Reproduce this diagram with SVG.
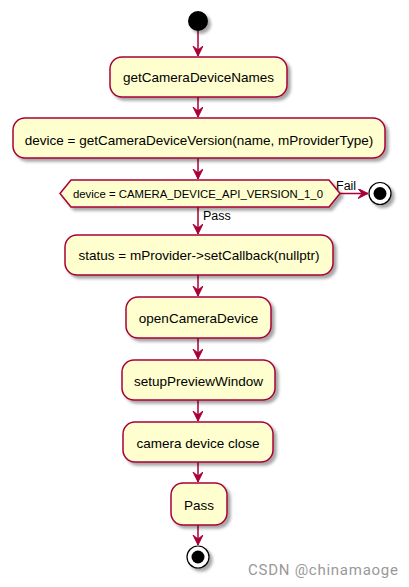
<svg xmlns="http://www.w3.org/2000/svg" width="409" height="587" viewBox="0 0 409 587">
<defs>
<filter id="sh" x="-20%" y="-20%" width="150%" height="160%">
<feGaussianBlur in="SourceAlpha" stdDeviation="1.5"/>
<feOffset dx="3" dy="3" result="b"/>
<feFlood flood-color="#000" flood-opacity="0.35"/>
<feComposite in2="b" operator="in"/>
<feMerge><feMergeNode/><feMergeNode in="SourceGraphic"/></feMerge>
</filter>
<marker id="ah" markerWidth="12" markerHeight="12" refX="10" refY="5" orient="auto" markerUnits="userSpaceOnUse">
<path d="M10,5 L0,0 L4,5 L0,10 Z" fill="#A80036" stroke="#A80036"/>
</marker>
</defs>
<style>
.box{fill:#FEFECE;stroke:#A80036;stroke-width:1.5;filter:url(#sh)}
.t{font-family:"Liberation Sans",Arial,sans-serif;font-size:13.5px;fill:#000;text-anchor:middle}
.ts{font-family:"Liberation Sans",Arial,sans-serif;font-size:12.5px;fill:#000}
.c{stroke:#A80036;stroke-width:1.5;fill:none;marker-end:url(#ah)}
</style>
<rect width="409" height="587" fill="#fff"/>
<g id="connectors">
<line class="c" x1="198" y1="31" x2="198" y2="56"/>
<line class="c" x1="198" y1="97" x2="198" y2="117"/>
<line class="c" x1="198" y1="158" x2="198" y2="179"/>
<line class="c" x1="198" y1="207" x2="198" y2="234"/>
<line class="c" x1="198" y1="275" x2="198" y2="296"/>
<line class="c" x1="198" y1="338" x2="198" y2="359"/>
<line class="c" x1="198" y1="400" x2="198" y2="421"/>
<line class="c" x1="198" y1="462" x2="198" y2="482"/>
<line class="c" x1="198" y1="525" x2="198" y2="545"/>
<line class="c" x1="340" y1="193.5" x2="368" y2="193.5"/>
<text class="ts" x="336" y="190">Fail</text>
<text class="ts" x="203" y="220">Pass</text>
</g>
<g id="start"><circle cx="198" cy="21" r="10" fill="#000" filter="url(#sh)"/></g>
<g id="n1"><rect class="box" x="110" y="57" width="177" height="40" rx="12"/><text class="t" x="198.5" y="82">getCameraDeviceNames</text></g>
<g id="n2"><rect class="box" x="13" y="118" width="372" height="40" rx="12"/><text class="t" x="199" y="145">device = getCameraDeviceVersion(name, mProviderType)</text></g>
<g id="d1"><polygon class="box" points="60,193.5 71,180 329,180 340,193.5 329,207 71,207"/><text class="ts" x="198" y="198" text-anchor="middle" style="font-size:11.3px" textLength="250" lengthAdjust="spacingAndGlyphs">device = CAMERA_DEVICE_API_VERSION_1_0</text></g>
<g id="end1"><circle cx="380" cy="193.5" r="11" fill="#fff" stroke="#000" stroke-width="1.2" filter="url(#sh)"/><circle cx="380" cy="193.5" r="6.5" fill="#000"/></g>
<g id="n3"><rect class="box" x="65" y="235" width="268" height="40" rx="12"/><text class="t" x="199" y="260">status = mProvider-&gt;setCallback(nullptr)</text></g>
<g id="n4"><rect class="box" x="126" y="297" width="145" height="41" rx="12"/><text class="t" x="198.5" y="323">openCameraDevice</text></g>
<g id="n5"><rect class="box" x="122" y="360" width="153" height="40" rx="12"/><text class="t" x="198.5" y="386">setupPreviewWindow</text></g>
<g id="n6"><rect class="box" x="123" y="422" width="150" height="40" rx="12"/><text class="t" x="198" y="448">camera device close</text></g>
<g id="n7"><rect class="box" x="171" y="483" width="56" height="42" rx="12"/><text class="t" x="199" y="510">Pass</text></g>
<g id="end2"><circle cx="198" cy="557" r="11" fill="#fff" stroke="#000" stroke-width="1.2" filter="url(#sh)"/><circle cx="198" cy="557" r="6.5" fill="#000"/></g>
<text x="398" y="575" text-anchor="end" font-family="Roboto,'Liberation Sans',sans-serif" font-size="15" fill="#999" textLength="150">CSDN @chinamaoge</text>
</svg>
